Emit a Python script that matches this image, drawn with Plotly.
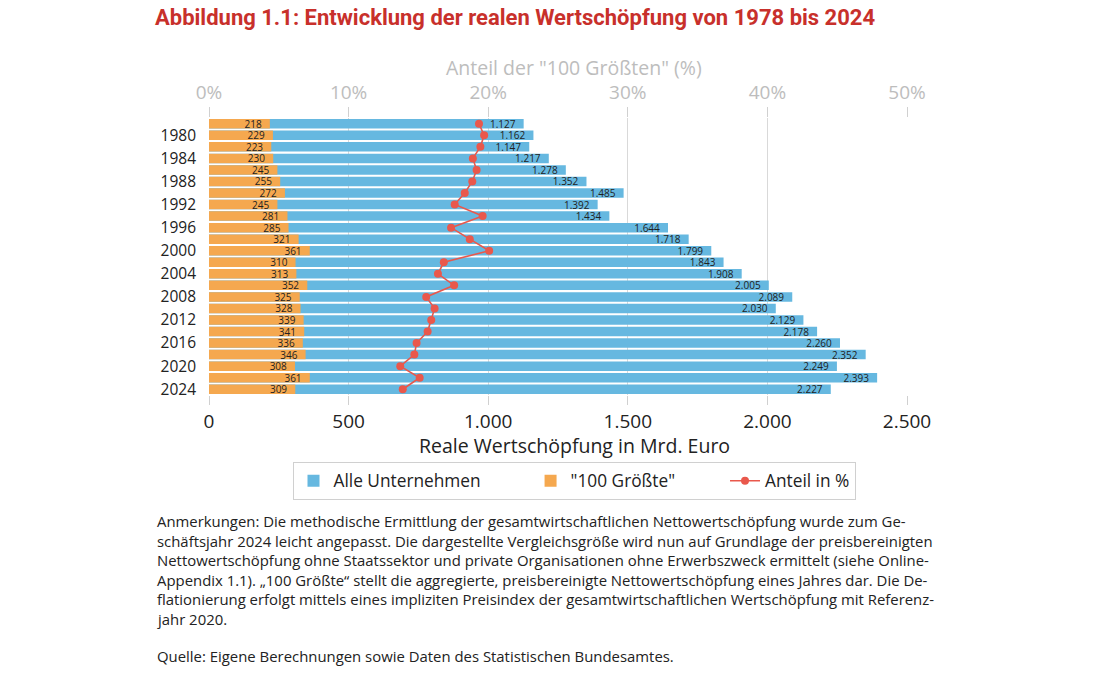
import plotly.graph_objects as go

years = [1978, 1980, 1982, 1984, 1986, 1988, 1990, 1992, 1994, 1996, 1998, 2000,
         2002, 2004, 2006, 2008, 2010, 2012, 2014, 2016, 2018, 2020, 2022, 2024]
alle = [1127, 1162, 1147, 1217, 1278, 1352, 1485, 1392, 1434, 1644, 1718, 1799,
        1843, 1908, 2005, 2089, 2030, 2129, 2178, 2260, 2352, 2249, 2393, 2227]
groesste = [218, 229, 223, 230, 245, 255, 272, 245, 281, 285, 321, 361,
            310, 313, 352, 325, 328, 339, 341, 336, 346, 308, 361, 309]
anteil = [19.34, 19.71, 19.44, 18.90, 19.17, 18.86, 18.32, 17.60, 19.60, 17.34, 18.68, 20.07,
          16.82, 16.40, 17.56, 15.56, 16.16, 15.92, 15.66, 14.87, 14.71, 13.70, 15.09, 13.88]
year_ticks = [1980, 1984, 1988, 1992, 1996, 2000, 2004, 2008, 2012, 2016, 2020, 2024]

FONT = "Open Sans"
BLUE = "#66B8E0"
ORANGE = "#F5A84F"
RED = "#E9584C"
GREY = "#BDBDBD"

PT, PB = 118, 395
def py(y):
    return (PB - y) / (PB - PT)
PL, PR = 209, 907
def px(x):
    return (x - PL) / (PR - PL)

fig = go.Figure()
nb = "\u00a0\u00a0"
pad = "\u00a0" * 10
fig.add_trace(go.Bar(
    y=years, x=alle, orientation="h", name="Alle Unternehmen" + pad,
    marker=dict(color=BLUE, line=dict(width=0)),
    texttemplate="%{x:,.0f}" + nb, textposition="inside", insidetextanchor="end",
    constraintext="none", textfont=dict(size=10, color="#222", family=FONT),
))
fig.add_trace(go.Bar(
    y=years, x=groesste, orientation="h", name="\"100 Größte\"" + pad,
    marker=dict(color=ORANGE, line=dict(width=0)),
    texttemplate="%{x:,.0f}" + nb, textposition="inside", insidetextanchor="end",
    constraintext="none", textfont=dict(size=10, color="#222", family=FONT),
))
fig.add_trace(go.Scatter(
    y=years, x=anteil, xaxis="x2", mode="lines+markers", name="Anteil in %",
    line=dict(color=RED, width=1.6), marker=dict(color=RED, size=8),
))

fig.update_layout(
    width=1098, height=681,
    margin=dict(l=PL, r=1098 - PR, t=PT, b=681 - PB),
    paper_bgcolor="white", plot_bgcolor="white",
    barmode="overlay", bargap=0.18,
    separators=",.",
    font=dict(family=FONT, color="#222"),
    showlegend=True,
    title=dict(
        text="<b>Abbildung 1.1: Entwicklung der realen Wertschöpfung von 1978 bis 2024</b>",
        font=dict(family="Roboto", size=22, color="#C8302B"),
        xref="container", x=155 / 1098, xanchor="left",
        yref="container", y=1 - 17 / 681, yanchor="middle",
    ),
    xaxis=dict(
        range=[0, 2500], dtick=500, tickformat=",.0f",
        showgrid=False, zeroline=False, showline=False,
        ticks="outside", ticklen=9, tickcolor="#D0D0D0",
        tickfont=dict(size=19, color="#222"),
    ),
    xaxis2=dict(
        range=[0, 50], dtick=10, ticksuffix="%", overlaying="x", side="top",
        showgrid=True, gridcolor="#D9D9D9", gridwidth=1, zeroline=False, showline=False,
        ticks="outside", ticklen=10, tickcolor="#D0D0D0",
        tickfont=dict(size=19, color=GREY),
    ),
    yaxis=dict(
        range=[2025, 1977], tickvals=year_ticks, ticktext=[str(y) for y in year_ticks],
        showgrid=False, zeroline=False, showline=False, ticks="",
        ticklabelstandoff=12, tickfont=dict(size=15.5, color="#222"),
    ),
    legend=dict(
        orientation="h", x=px(574), xanchor="center", y=py(462), yanchor="top",
        bordercolor="#D0D0D0", borderwidth=1, font=dict(size=17.3, color="#222"),
        traceorder="normal",
    ),
)

# axis titles
fig.add_annotation(text="Reale Wertschöpfung in Mrd. Euro", xref="paper", yref="paper",
                   x=px(574.5), y=py(445), xanchor="center", yanchor="middle", showarrow=False,
                   font=dict(size=19.5, color="#222", family=FONT))
fig.add_annotation(text="Anteil der \"100 Größten\" (%)", xref="paper", yref="paper",
                   x=px(574), y=py(67), xanchor="center", yanchor="middle", showarrow=False,
                   font=dict(size=19.5, color=GREY, family=FONT))

lines = [
    "Anmerkungen: Die methodische Ermittlung der gesamtwirtschaftlichen Nettowertschöpfung wurde zum Ge-",
    "schäftsjahr 2024 leicht angepasst. Die dargestellte Vergleichsgröße wird nun auf Grundlage der preisbereinigten",
    "Nettowertschöpfung ohne Staatssektor und private Organisationen ohne Erwerbszweck ermittelt (siehe Online-",
    "Appendix 1.1). „100 Größte“ stellt die aggregierte, preisbereinigte Nettowertschöpfung eines Jahres dar. Die De-",
    "flationierung erfolgt mittels eines impliziten Preisindex der gesamtwirtschaftlichen Wertschöpfung mit Referenz-",
    "jahr 2020.",
]
ys = [521, 540.6, 560.2, 579.8, 599.4, 619]
for t, yy in zip(lines, ys):
    fig.add_annotation(text=t, xref="paper", yref="paper", x=px(155), y=py(yy),
                       xanchor="left", yanchor="middle", showarrow=False,
                       font=dict(size=14.9, color="#222", family=FONT))
fig.add_annotation(text="Quelle: Eigene Berechnungen sowie Daten des Statistischen Bundesamtes.",
                   xref="paper", yref="paper", x=px(155), y=py(656),
                   xanchor="left", yanchor="middle", showarrow=False,
                   font=dict(size=14.9, color="#222", family=FONT))

fig.write_html("out.html")
